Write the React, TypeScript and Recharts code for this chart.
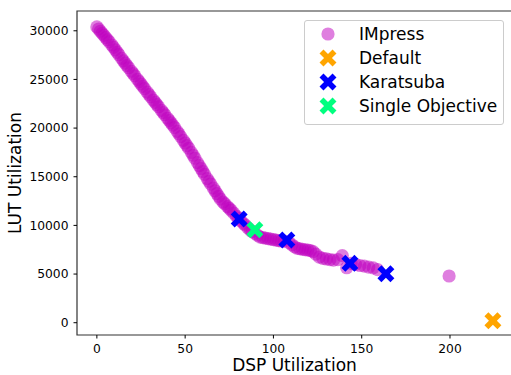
import { ScatterChart, Scatter, XAxis, YAxis, ReferenceArea } from "recharts";

// DSP / LUT readings for the IMpress design points
const impressDsp = [
  0, 1, 2, 3, 4, 5, 6, 7, 8.5, 9.5, 10.5, 11.5, 12.5, 14, 15, 16, 17, 18, 19.5, 20.5, 21.5, 23, 24, 25,
  26, 27, 28.5, 29.5, 30.5, 32, 33, 34, 35, 36.5, 37.5, 38.5, 40, 41, 42, 43, 44, 45.5, 46.5, 47.5, 49,
  50, 51, 52, 53.5, 54.5, 55.5, 57, 58, 59, 60, 61, 62.5, 63.5, 64.5, 66, 67, 68, 69, 70, 71.5, 72.5, 74,
  75, 76, 77.5, 79, 80, 81.5, 83, 84, 85.5, 87, 88, 89.5, 91, 92.5, 94, 95.5, 97, 98.5, 100, 101.5, 103,
  104.5, 106, 109, 110.5, 112, 113.5, 115, 116.5, 118, 119.5, 121, 122.5, 124, 126, 128, 130, 132, 134,
  136.5, 139, 141.5, 144, 146.5, 149, 151.5, 154, 156.5, 159, 199.5,
];
const impressLut = [
  30400, 30180, 29950, 29740, 29520, 29300, 29080, 28870, 28540, 28290, 28040, 27790, 27540, 27160, 26910,
  26670, 26430, 26200, 25840, 25610, 25370, 25010, 24770, 24530, 24290, 24050, 23690, 23450, 23210, 22870,
  22640, 22410, 22180, 21830, 21600, 21370, 21010, 20780, 20540, 20300, 20060, 19660, 19400, 19130, 18730,
  18470, 18200, 17930, 17510, 17210, 16900, 16450, 16150, 15850, 15540, 15240, 14810, 14530, 14250, 13830,
  13540, 13260, 12980, 12700, 12390, 12210, 11930, 11750, 11560, 11260, 10960, 10760, 10470, 10200, 10020,
  9750, 9490, 9370, 9180, 8990, 8800, 8750, 8700, 8640, 8590, 8540, 8480, 8430, 8400, 8380, 8200, 8000,
  7800, 7650, 7600, 7550, 7500, 7470, 7400, 7300, 7050, 6750, 6620, 6550, 6480, 6440, 6480, 6900, 5650,
  6100, 6000, 5880, 5820, 5720, 5640, 5450, 4800,
];
const defaultDsp = [224.3];
const defaultLut = [200];
const karatsubaDsp = [80.6, 107.6, 143.3, 163.7];
const karatsubaLut = [10650, 8500, 6100, 5030];
const singleDsp = [89.5];
const singleLut = [9560];

const xTicks = [0, 50, 100, 150, 200];
const yTicks = [0, 5000, 10000, 15000, 20000, 25000, 30000];
const xDomain = [-11.25, 236.25];
const yDomain = [-1263, 32033];

const FONT = "DejaVu Sans";
const IMPRESS = "#bf00bf";

const toPoints = (xs: number[], ys: number[]) => xs.map((x, i) => ({ dsp: x, lut: ys[i] }));

// matplotlib-style filled "X" marker
function crossPath(cx: number, cy: number, s = 9.2, w = 2.8) {
  const base = [
    [w, s], [w, w], [s, w], [s, -w], [w, -w], [w, -s],
    [-w, -s], [-w, -w], [-s, -w], [-s, w], [-w, w], [-w, s],
  ];
  const k = Math.SQRT1_2;
  return (
    base
      .map(([x, y], i) => `${i ? "L" : "M"}${cx + (x - y) * k},${cy + (x + y) * k}`)
      .join("") + "Z"
  );
}

const Dot = (props: any) => (
  <circle cx={props.cx} cy={props.cy} r={6.6} fill={IMPRESS} fillOpacity={0.5} />
);
const cross = (color: string) => (props: any) => <path d={crossPath(props.cx, props.cy)} fill={color} />;

const legendItems = [
  { name: "IMpress", kind: "dot", color: IMPRESS },
  { name: "Default", kind: "x", color: "#ffa500" },
  { name: "Karatsuba", kind: "x", color: "#0000ff" },
  { name: "Single Objective", kind: "x", color: "#00ff7f" },
];

const tickStyle = { fill: "#000", fontSize: 12.3, fontFamily: FONT };

export default function App() {
  return (
    <div
      style={{
        position: "absolute",
        left: 0,
        top: 0,
        width: 511,
        height: 375,
        overflow: "hidden",
        background: "#fff",
        fontFamily: FONT,
      }}
    >
      <ScatterChart width={515} height={375} margin={{ top: 11, right: 1, bottom: 0, left: 0 }}>
        <XAxis
          type="number"
          dataKey="dsp"
          domain={xDomain}
          ticks={xTicks}
          height={40}
          axisLine={false}
          tickSize={3.5}
          tickMargin={6}
          tickLine={{ stroke: "#000" }}
          tick={tickStyle}
          allowDataOverflow
          label={{
            content: (p: any) => (
              <text
                x={p.viewBox.x + p.viewBox.width / 2 - 1}
                y={p.viewBox.y + 36}
                textAnchor="middle"
                fontSize={17}
                fontFamily={FONT}
                fill="#000"
              >
                DSP Utilization
              </text>
            ),
          }}
        />
        <YAxis
          type="number"
          dataKey="lut"
          domain={yDomain}
          ticks={yTicks}
          width={77}
          axisLine={false}
          tickSize={3.5}
          tickMargin={5}
          tickLine={{ stroke: "#000" }}
          tick={tickStyle}
          allowDataOverflow
          label={{
            content: (p: any) => {
              const cy = p.viewBox.y + p.viewBox.height / 2;
              return (
                <text
                  x={20.5}
                  y={cy}
                  transform={`rotate(-90, 20.5, ${cy})`}
                  textAnchor="middle"
                  fontSize={17}
                  fontFamily={FONT}
                  fill="#000"
                >
                  LUT Utilization
                </text>
              );
            },
          }}
        />
        <ReferenceArea
          x1={xDomain[0]}
          x2={xDomain[1]}
          y1={yDomain[0]}
          y2={yDomain[1]}
          fill="none"
          stroke="#333"
          strokeWidth={1.2}
        />
        <Scatter name="IMpress" data={toPoints(impressDsp, impressLut)} shape={Dot} isAnimationActive={false} />
        <Scatter name="Default" data={toPoints(defaultDsp, defaultLut)} shape={cross("#ffa500")} isAnimationActive={false} />
        <Scatter name="Karatsuba" data={toPoints(karatsubaDsp, karatsubaLut)} shape={cross("#0000ff")} isAnimationActive={false} />
        <Scatter name="Single Objective" data={toPoints(singleDsp, singleLut)} shape={cross("#00ff7f")} isAnimationActive={false} />
      </ScatterChart>

      <div
        style={{
          position: "absolute",
          left: 304,
          top: 20,
          width: 200,
          height: 105,
          boxSizing: "border-box",
          border: "1px solid #cccccc",
          borderRadius: 3,
          background: "rgba(255,255,255,0.8)",
          paddingTop: 1,
        }}
      >
        {legendItems.map((it) => (
          <div key={it.name} style={{ position: "relative", height: 24, fontSize: 17, lineHeight: "24px", color: "#000" }}>
            <svg width={20} height={20} style={{ position: "absolute", left: 13, top: 2 }}>
              {it.kind === "dot" ? (
                <circle cx={10} cy={10} r={6.6} fill={it.color} fillOpacity={0.5} />
              ) : (
                <path d={crossPath(10, 10)} fill={it.color} />
              )}
            </svg>
            <span style={{ position: "absolute", left: 54, top: 0, whiteSpace: "nowrap" }}>{it.name}</span>
          </div>
        ))}
      </div>
    </div>
  );
}
